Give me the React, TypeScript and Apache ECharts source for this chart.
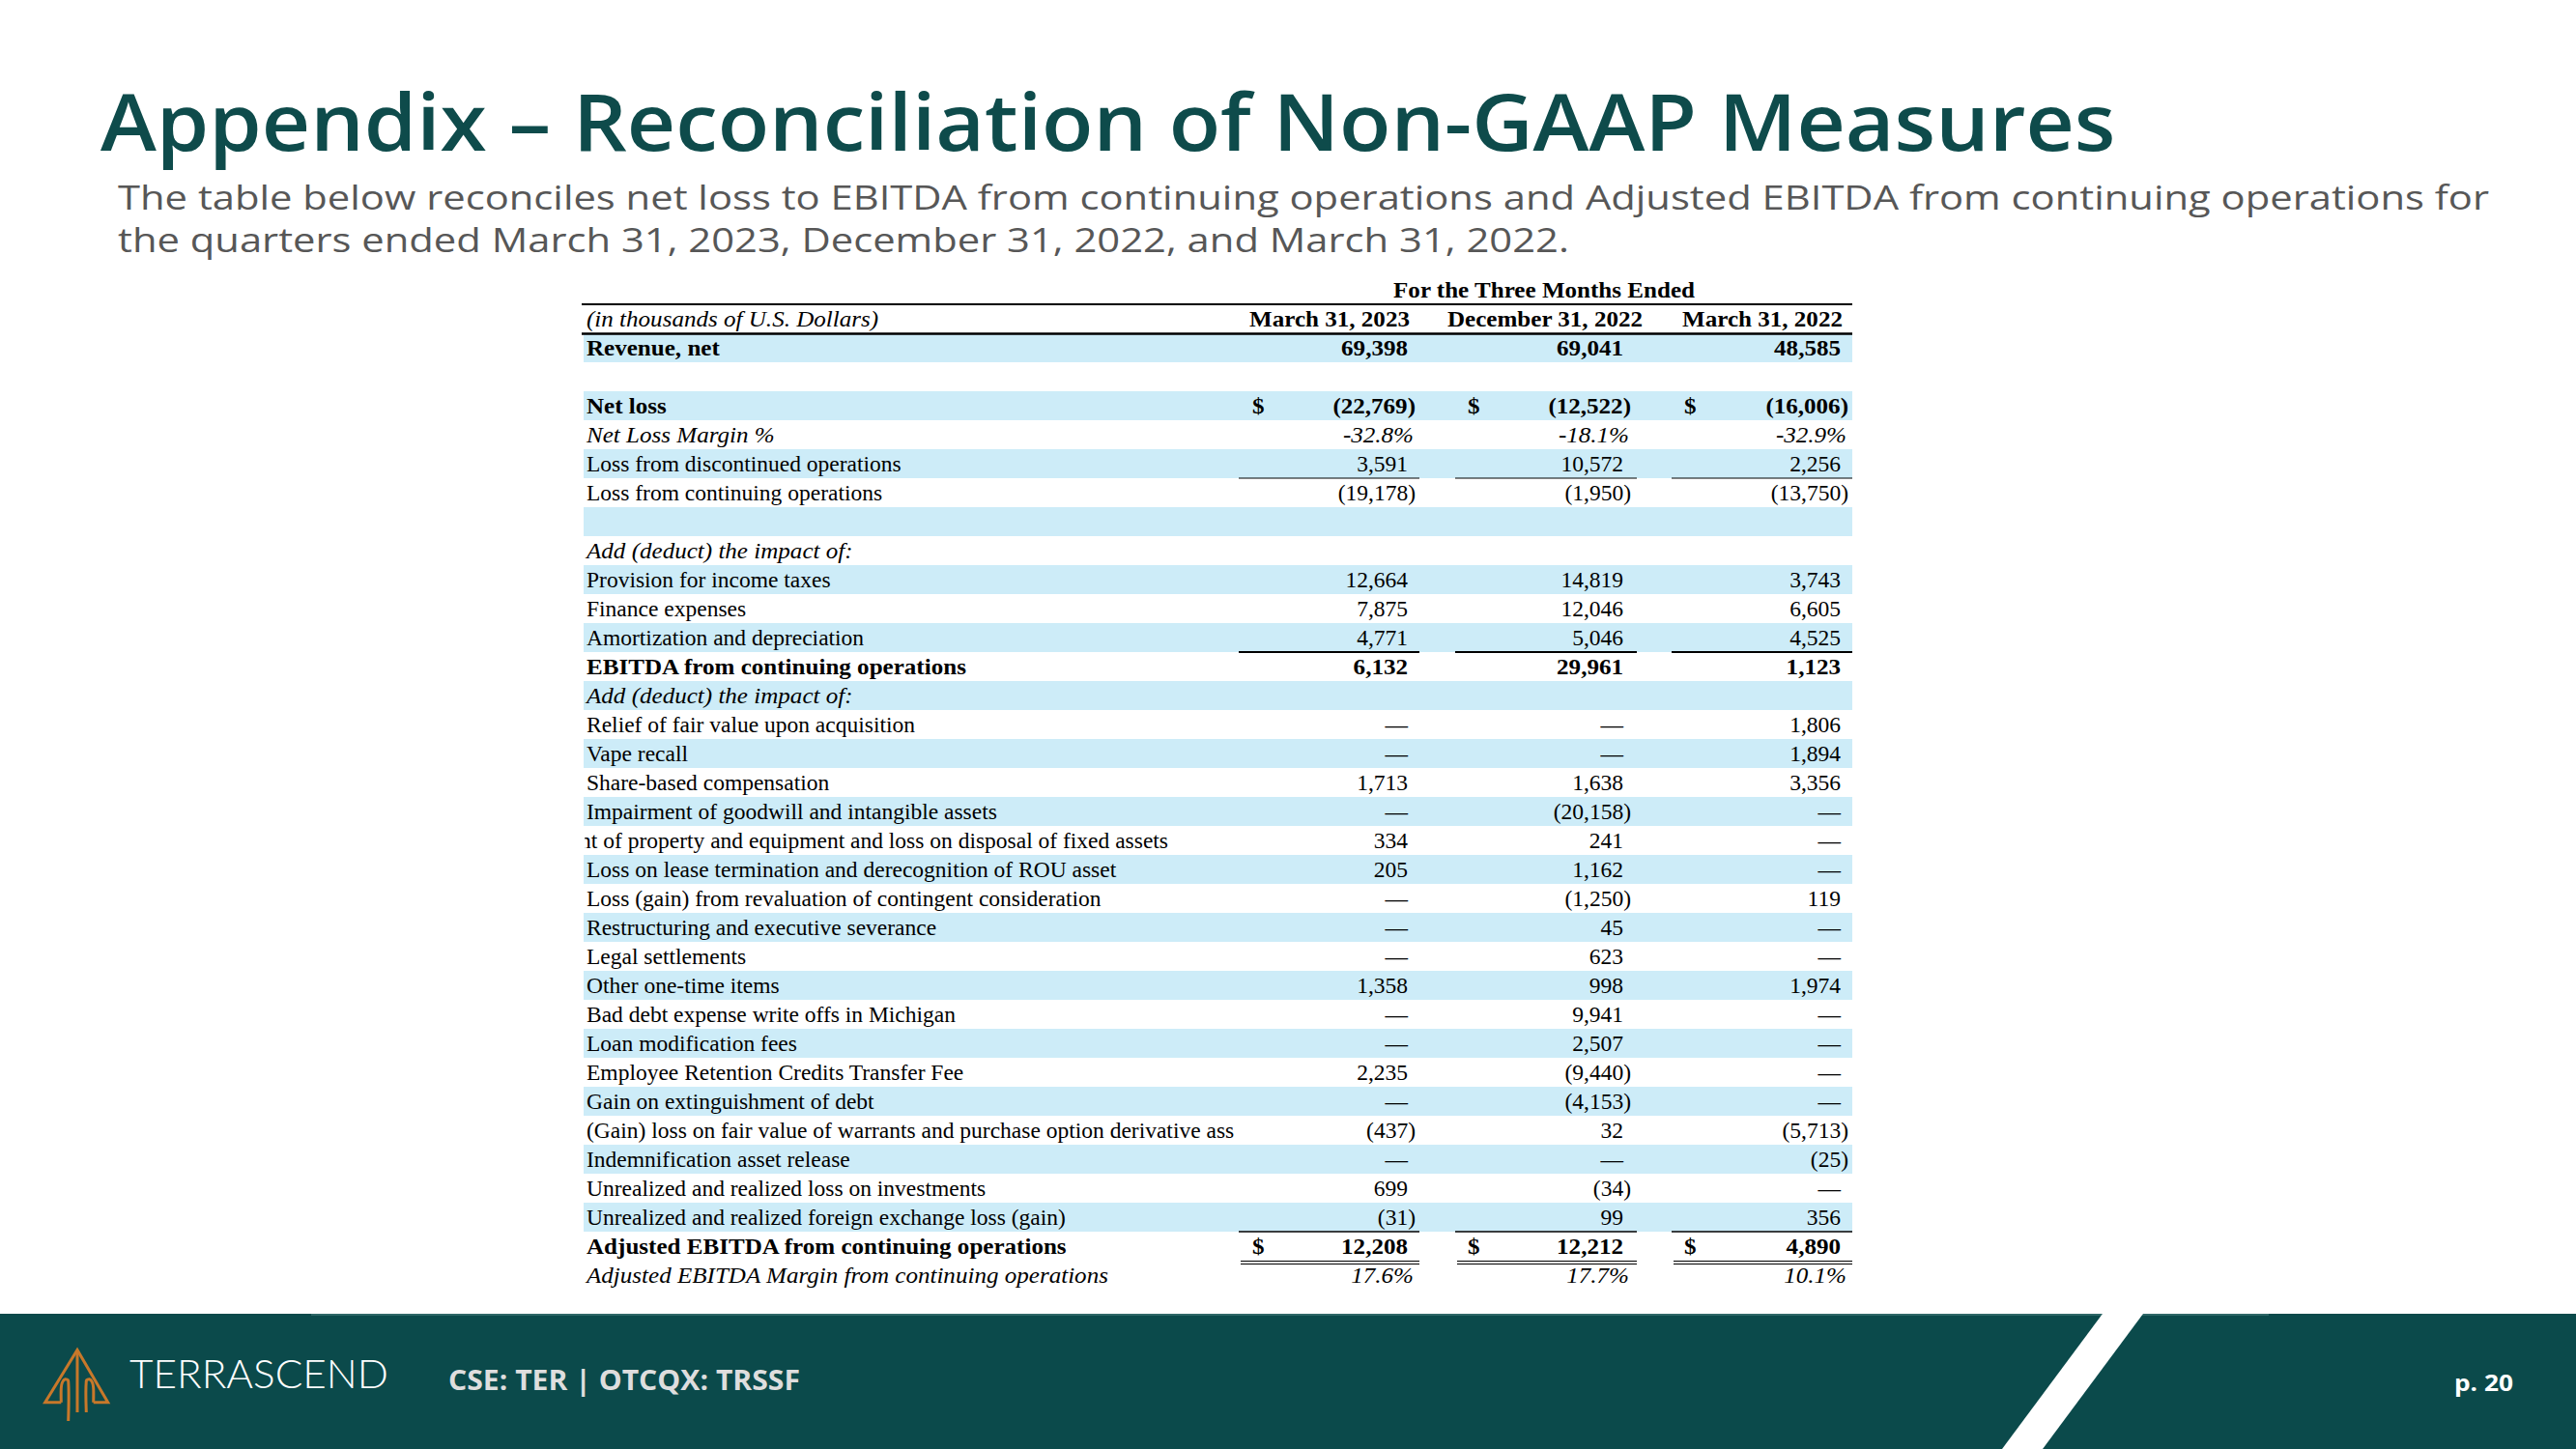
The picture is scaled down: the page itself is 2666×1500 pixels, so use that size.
import React, { useEffect, useRef } from "react";
import * as echarts from "echarts";

// ---------- DATA ----------
const pageTitle = "Appendix – Reconciliation of Non-GAAP Measures";
const subtitleLines = [
  "The table below reconciles net loss to EBITDA from continuing operations and Adjusted EBITDA from continuing operations for",
  "the quarters ended March 31, 2023, December 31, 2022, and March 31, 2022.",
];
const tableCaption = "For the Three Months Ended";
const unitsLabel = "(in thousands of U.S. Dollars)";
const columnHeaders = ["March 31, 2023", "December 31, 2022", "March 31, 2022"];

const rowLabels = [
  "Revenue, net",
  "",
  "Net loss",
  "Net Loss Margin %",
  "Loss from discontinued operations",
  "Loss from continuing operations",
  "",
  "Add (deduct) the impact of:",
  "Provision for income taxes",
  "Finance expenses",
  "Amortization and depreciation",
  "EBITDA from continuing operations",
  "Add (deduct) the impact of:",
  "Relief of fair value upon acquisition",
  "Vape recall",
  "Share-based compensation",
  "Impairment of goodwill and intangible assets",
  "nt of property and equipment and loss on disposal of fixed assets",
  "Loss on lease termination and derecognition of ROU asset",
  "Loss (gain) from revaluation of contingent consideration",
  "Restructuring and executive severance",
  "Legal settlements",
  "Other one-time items",
  "Bad debt expense write offs in Michigan",
  "Loan modification fees",
  "Employee Retention Credits Transfer Fee",
  "Gain on extinguishment of debt",
  "(Gain) loss on fair value of warrants and purchase option derivative ass",
  "Indemnification asset release",
  "Unrealized and realized loss on investments",
  "Unrealized and realized foreign exchange loss (gain)",
  "Adjusted EBITDA from continuing operations",
  "Adjusted EBITDA Margin from continuing operations",
];

// kind of each row: bold / italic / pct (italic percentage) / normal / blank
const rowKinds = [
  "bold", "blank", "bold", "pct", "normal", "normal", "blank", "italic",
  "normal", "normal", "normal", "bold", "italic",
  "normal", "normal", "normal", "normal", "normal", "normal", "normal", "normal", "normal",
  "normal", "normal", "normal", "normal", "normal", "normal", "normal", "normal", "normal",
  "bold", "pct",
];

// 0 means "—", null means empty cell
const mar2023 = [69398, null, -22769, -32.8, 3591, -19178, null, null, 12664, 7875, 4771, 6132, null,
  0, 0, 1713, 0, 334, 205, 0, 0, 0, 1358, 0, 0, 2235, 0, -437, 0, 699, -31, 12208, 17.6];
const dec2022 = [69041, null, -12522, -18.1, 10572, -1950, null, null, 14819, 12046, 5046, 29961, null,
  0, 0, 1638, -20158, 241, 1162, -1250, 45, 623, 998, 9941, 2507, -9440, -4153, 32, 0, -34, 99, 12212, 17.7];
const mar2022 = [48585, null, -16006, -32.9, 2256, -13750, null, null, 3743, 6605, 4525, 1123, null,
  1806, 1894, 3356, 0, 0, 0, 119, 0, 0, 1974, 0, 0, 0, 0, -5713, -25, 0, 356, 4890, 10.1];

const dollarRows = [2, 31];
const footerTicker = "CSE: TER | OTCQX: TRSSF";
const footerBrand = "TERRASCEND";
const pageNumber = "p. 20";

// ---------- LAYOUT / STYLE ----------
const W = 2666;
const H = 1500;
const SERIF = '"Liberation Serif", "Times New Roman", serif';
const SHADE = "#cdecf8";
const TEAL = "#0e4b4b";
const BAND = "#0b4a4b";
const ORANGE = "#c8782a";
const TABLE_LEFT = 604;
const TABLE_RIGHT = 1917;
const LABEL_X = 607;
const COL_RIGHT = [1457, 1680, 1905];
const COL_CENTER = [1376, 1599, 1824];
const DOLLAR_X = [1296, 1519, 1743];
const COL_SPAN = [[1282, 1469], [1506, 1694], [1730, 1917]];
const UNDERLINES: Record<number, number> = { 4: 1.2, 10: 2.2, 30: 1.5 };
const REG_SIZE = 23.5;
const BI_SIZE = 23;
const BI_SCALE = 1.09; // emulates the letter-spaced bold / italic text

const serif = (size: number, weight = "normal", style = "normal") =>
  `${style} ${weight} ${size}px ${SERIF}`;
const FONT_REG = serif(REG_SIZE);
const FONT_BOLD = serif(BI_SIZE, "bold");
const FONT_ITAL = serif(BI_SIZE, "normal", "italic");

function fitScale(text: string, font: string, target: number) {
  try {
    const ctx = document.createElement("canvas").getContext("2d");
    if (!ctx) return 1;
    ctx.font = font;
    const w = ctx.measureText(text).width;
    return w > 0 ? target / w : 1;
  } catch (e) {
    return 1;
  }
}

function fmt(v: number, kind: string) {
  if (kind === "pct") return v.toFixed(1) + "%";
  if (v === 0) return "—";
  const s = Math.abs(v).toLocaleString("en-US");
  return v < 0 ? "(" + s + ")" : s;
}

function txt(text: string, x: number, y: number, font: string, fill: string, align: string, extra: any = {}) {
  return {
    type: "text",
    x,
    y,
    z: 20,
    silent: true,
    ...extra,
    style: {
      text,
      font,
      fill,
      textAlign: align,
      align,
      textVerticalAlign: "middle",
      verticalAlign: "middle",
    },
  };
}

function buildOption() {
  const cols = [mar2023, dec2022, mar2022];

  const renderItem = (params: any, api: any) => {
    const i = api.value(1);
    const cy = api.coord([0, i])[1];
    const h = api.size([0, 1])[1];
    const top = cy - h / 2;
    const bottom = cy + h / 2;
    const kind = rowKinds[i];
    const children: any[] = [];
    if (i % 2 === 0 && i <= 30) {
      children.push({
        type: "rect",
        shape: { x: TABLE_LEFT, y: top, width: TABLE_RIGHT - TABLE_LEFT, height: h },
        style: { fill: SHADE },
      });
    }
    const isBold = kind === "bold";
    const isItal = kind === "italic" || kind === "pct";
    const lblFont = isBold ? FONT_BOLD : isItal ? FONT_ITAL : FONT_REG;
    const lblScale = isBold || isItal ? BI_SCALE : 1;
    const label = rowLabels[i];
    if (label) {
      if (i === 17) {
        children.push(txt(label, 1209, cy, lblFont, "#000", "right"));
      } else {
        children.push(txt(label, LABEL_X, cy, lblFont, "#000", "left", { scaleX: lblScale }));
      }
    }
    const valFont = isBold ? FONT_BOLD : kind === "pct" ? FONT_ITAL : FONT_REG;
    const valScale = isBold || kind === "pct" ? BI_SCALE : 1;
    for (let c = 0; c < 3; c++) {
      const v = cols[c][i];
      if (v === null || v === undefined) continue;
      const s = fmt(v, kind);
      const shift = s.endsWith(")") ? 8 : s.endsWith("%") ? 6 : 0;
      children.push(txt(s, COL_RIGHT[c] + shift, cy, valFont, "#000", "right", { scaleX: valScale }));
      if (dollarRows.indexOf(i) >= 0) {
        children.push(txt("$", DOLLAR_X[c], cy, FONT_BOLD, "#000", "left", { scaleX: BI_SCALE }));
      }
    }
    if (UNDERLINES[i]) {
      for (let c = 0; c < 3; c++) {
        children.push({
          type: "line",
          shape: { x1: COL_SPAN[c][0], y1: bottom, x2: COL_SPAN[c][1], y2: bottom },
          style: { stroke: "#000", lineWidth: UNDERLINES[i] },
        });
      }
    }
    if (i === 31) {
      for (let c = 0; c < 3; c++) {
        for (const dy of [0.5, 3.5]) {
          children.push({
            type: "line",
            shape: { x1: COL_SPAN[c][0] + 2, y1: bottom + dy, x2: COL_SPAN[c][1], y2: bottom + dy },
            style: { stroke: "#000", lineWidth: 1 },
          });
        }
      }
    }
    if (i === 17) {
      children.push({
        type: "rect",
        shape: { x: 0, y: top, width: TABLE_LEFT + 1, height: h },
        style: { fill: "#ffffff" },
      });
    }
    return { type: "group", children };
  };

  const titleFont = '600 82px "Open Sans", sans-serif';
  const titleScale = fitScale(pageTitle, titleFont, 2086);
  const subFont = '400 35px "Open Sans", sans-serif';
  const subScale = fitScale(subtitleLines[0], subFont, 2454);
  const brandFont = '300 42px Lato, "Open Sans", sans-serif';
  const brandScale = fitScale(footerBrand, brandFont, 268);
  const tickerFont = '700 29px "Open Sans", sans-serif';
  const tickerScale = fitScale(footerTicker, tickerFont, 364);
  const pageFont = '700 24px "Open Sans", sans-serif';
  const pageScale = fitScale(pageNumber, pageFont, 61);

  const graphic: any[] = [
    // title + subtitle
    txt(pageTitle, 104, 124, titleFont, TEAL, "left", { scaleX: titleScale }),
    txt(subtitleLines[0], 122, 203, subFont, "#575757", "left", { scaleX: subScale }),
    txt(subtitleLines[1], 122, 247, subFont, "#575757", "left", { scaleX: subScale }),
    // table header
    txt(tableCaption, 1598, 300, FONT_BOLD, "#000", "center", { scaleX: BI_SCALE }),
    { type: "line", z: 30, silent: true, shape: { x1: 602, y1: 315, x2: TABLE_RIGHT, y2: 315 }, style: { stroke: "#000", lineWidth: 2 } },
    txt(unitsLabel, LABEL_X, 330, FONT_ITAL, "#000", "left", { scaleX: BI_SCALE }),
    ...columnHeaders.map((t, c) => txt(t, COL_CENTER[c], 330, FONT_BOLD, "#000", "center", { scaleX: BI_SCALE })),
    { type: "line", z: 30, silent: true, shape: { x1: 602, y1: 345.5, x2: TABLE_RIGHT, y2: 345.5 }, style: { stroke: "#000", lineWidth: 2.5 } },
    // footer band
    { type: "rect", z: 5, silent: true, shape: { x: 0, y: 1360, width: W, height: H - 1360 }, style: { fill: BAND } },
    { type: "line", z: 6, silent: true, shape: { x1: 322, y1: 1361, x2: 2348, y2: 1361 }, style: { stroke: "#2e6767", lineWidth: 2 } },
    {
      type: "polygon", z: 6, silent: true,
      shape: { points: [[2176, 1360], [2218, 1360], [2114, 1500], [2072, 1500]] },
      style: { fill: "#ffffff" },
    },
    // logo
    { type: "polyline", z: 7, silent: true, shape: { points: [[63.3, 1451.7], [46.7, 1451.7], [80, 1397.5], [111.7, 1451.7], [96.7, 1451.7]] }, style: { stroke: ORANGE, lineWidth: 3, fill: null, lineJoin: "miter" } },
    { type: "line", z: 7, silent: true, shape: { x1: 80, y1: 1398, x2: 80, y2: 1462 }, style: { stroke: ORANGE, lineWidth: 3 } },
    { type: "polyline", z: 7, silent: true, shape: { points: [[63.3, 1451.7], [63.3, 1437], [64.5, 1431], [67.5, 1427.8], [70.7, 1429.5], [70.7, 1471]], smooth: 0.3 }, style: { stroke: ORANGE, lineWidth: 3, fill: null } },
    { type: "polyline", z: 7, silent: true, shape: { points: [[96.7, 1451.7], [96.7, 1437], [95.5, 1431], [92.5, 1427.8], [89.3, 1429.5], [89.3, 1462]], smooth: 0.3 }, style: { stroke: ORANGE, lineWidth: 3, fill: null } },
    txt(footerBrand, 134, 1421, brandFont, "#ffffff", "left", { scaleX: brandScale }),
    txt(footerTicker, 464, 1428, tickerFont, "#dedede", "left", { scaleX: tickerScale }),
    txt(pageNumber, 2540, 1430, pageFont, "#ffffff", "left", { scaleX: pageScale }),
  ];

  return {
    animation: false,
    backgroundColor: "#ffffff",
    grid: { left: 0, right: 0, top: 345, height: 990, containLabel: false },
    xAxis: { type: "value", min: 0, max: 1, show: false },
    yAxis: {
      type: "category",
      inverse: true,
      show: false,
      data: rowLabels.map((_, i) => String(i)),
    },
    series: [
      {
        type: "custom",
        silent: true,
        clip: false,
        z: 2,
        renderItem,
        data: rowLabels.map((_, i) => [0, i]),
      },
    ],
    graphic,
  };
}

export default function App() {
  const ref = useRef<HTMLDivElement>(null);
  useEffect(() => {
    if (!ref.current) return;
    const chart = echarts.init(ref.current, null, { renderer: "svg", width: W, height: H });
    chart.setOption(buildOption() as any);
    return () => chart.dispose();
  }, []);
  return (
    <div
      ref={ref}
      style={{ position: "fixed", left: 0, top: 0, width: W, height: H, background: "#fff" }}
    />
  );
}
